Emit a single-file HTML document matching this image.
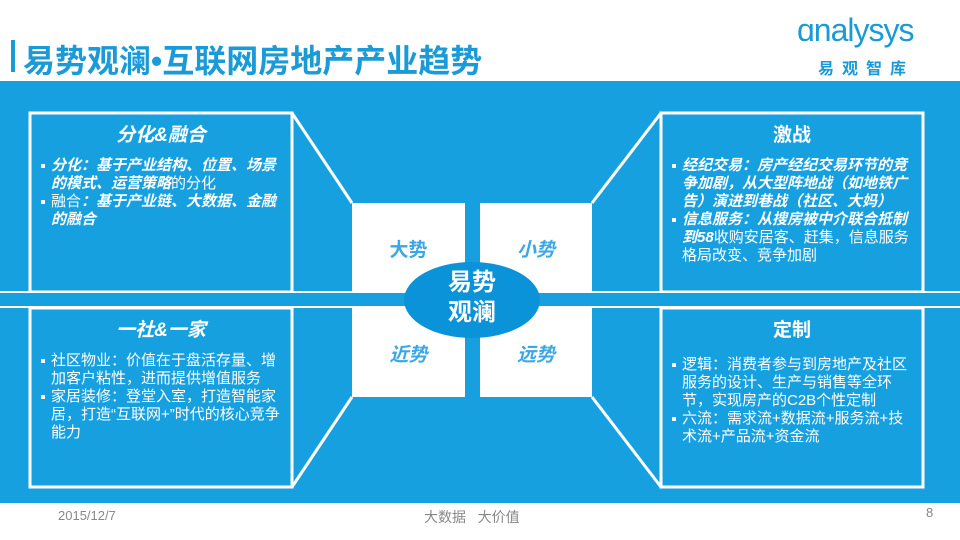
<!DOCTYPE html>
<html><head><meta charset="utf-8"><style>
body{margin:0;width:960px;height:540px;position:relative;overflow:hidden;background:#fff;font-family:"Liberation Sans","Noto Sans CJK SC",sans-serif;}
.a{position:absolute}
.t{color:#fff;font-size:15px;line-height:18px}
.t ul{margin:0;padding:0 0 0 13px;list-style:none}
.t li{position:relative}
.t li:before{content:"";position:absolute;left:-10px;top:7px;width:4px;height:4px;background:#fff}
.h{color:#fff;font-weight:bold;font-size:19px;text-align:center;width:262px}
i,b{font-style:italic;font-weight:bold}
.sq{color:#3aa7e6;font-weight:bold;font-size:19px;text-align:center}
</style></head><body>
<div class="a" style="left:11px;top:40px;width:4px;height:32px;background:#1a9ad6"></div>
<div class="a" style="left:23px;top:36px;font-size:32px;font-weight:bold;color:#1a9ad6;white-space:nowrap">易势观澜•互联网房地产产业趋势</div>
<div class="a" style="left:797px;top:12px;font-size:32px;color:#1a9ad6;letter-spacing:-1px">&#x251;nalysys</div>
<div class="a" style="left:818px;top:55px;font-size:16px;color:#1a9ad6;font-weight:bold;letter-spacing:8px">易观智库</div>
<div class="a" style="left:0;top:81px;width:960px;height:422px;background:#17a0e0"></div>
<svg class="a" style="left:0;top:0" width="960" height="540">
<g fill="none" stroke="#fff" stroke-width="3">
<rect x="30" y="113" width="262" height="179"/>
<rect x="661" y="113" width="262" height="179"/>
<rect x="30" y="308" width="262" height="179"/>
<rect x="661" y="308" width="262" height="179"/>
<polyline points="292,113 352,203"/><polyline points="292,487 352,397"/>
<polyline points="661,113 592,203"/><polyline points="661,487 592,397"/>
</g>
<g stroke="#fff" stroke-width="2">
<line x1="0" y1="292" x2="960" y2="292"/><line x1="0" y1="307" x2="960" y2="307"/>
</g>
<rect x="0" y="293" width="960" height="13" fill="#17a0e0"/>
<g fill="#fff">
<rect x="352" y="203" width="113" height="89"/><rect x="480" y="203" width="112" height="89"/>
<rect x="352" y="308" width="113" height="89"/><rect x="480" y="308" width="112" height="89"/>
</g>
<ellipse cx="472" cy="300" rx="68" ry="38" fill="#0a93d9"/>
</svg>
<div class="a sq" style="left:352px;top:235px;width:113px">大势</div>
<div class="a sq" style="left:480px;top:235px;width:112px;font-style:italic">小势</div>
<div class="a sq" style="left:352px;top:340px;width:113px;font-style:italic">近势</div>
<div class="a sq" style="left:480px;top:340px;width:112px;font-style:italic">远势</div>
<div class="a" style="left:404px;top:268px;width:136px;text-align:center;color:#fff;font-weight:bold;font-size:24px;line-height:30px">易势<br>观澜</div>
<div class="a h" style="left:30px;top:120px;font-style:italic">分化&amp;融合</div>
<div class="a t" style="left:38px;top:157px;width:242px"><ul><li><b>分化：基于产业结构、位置、场景的模式、运营策略</b>的分化</li><li>融合<b>：基于产业链、大数据、金融的融合</b></li></ul></div>
<div class="a h" style="left:661px;top:120px">激战</div>
<div class="a t" style="left:669px;top:157px;width:242px"><ul><li><b>经纪交易：房产经纪交易环节的竞争加剧，从大型阵地战（如地铁广告）演进到巷战（社区、大妈）</b></li><li><b>信息服务：从搜房被中介联合抵制到58</b>收购安居客、赶集，信息服务格局改变、竞争加剧</li></ul></div>
<div class="a h" style="left:30px;top:315px;font-style:italic">一社&amp;一家</div>
<div class="a t" style="left:38px;top:352px;width:242px"><ul><li>社区物业：价值在于盘活存量、增加客户粘性，进而提供增值服务</li><li>家居装修：登堂入室，打造智能家居，打造“互联网+”时代的核心竞争能力</li></ul></div>
<div class="a h" style="left:661px;top:315px">定制</div>
<div class="a t" style="left:669px;top:356px;width:242px"><ul><li>逻辑：消费者参与到房地产及社区服务的设计、生产与销售等全环节，实现房产的C2B个性定制</li><li>六流：需求流+数据流+服务流+技术流+产品流+资金流</li></ul></div>
<div class="a" style="left:58px;top:508px;font-size:13px;color:#888">2015/12/7</div>
<div class="a" style="left:424px;top:507px;font-size:14px;color:#888">大数据&nbsp;&nbsp;&nbsp;大价值</div>
<div class="a" style="left:926px;top:505px;font-size:13px;color:#888">8</div>
</body></html>
